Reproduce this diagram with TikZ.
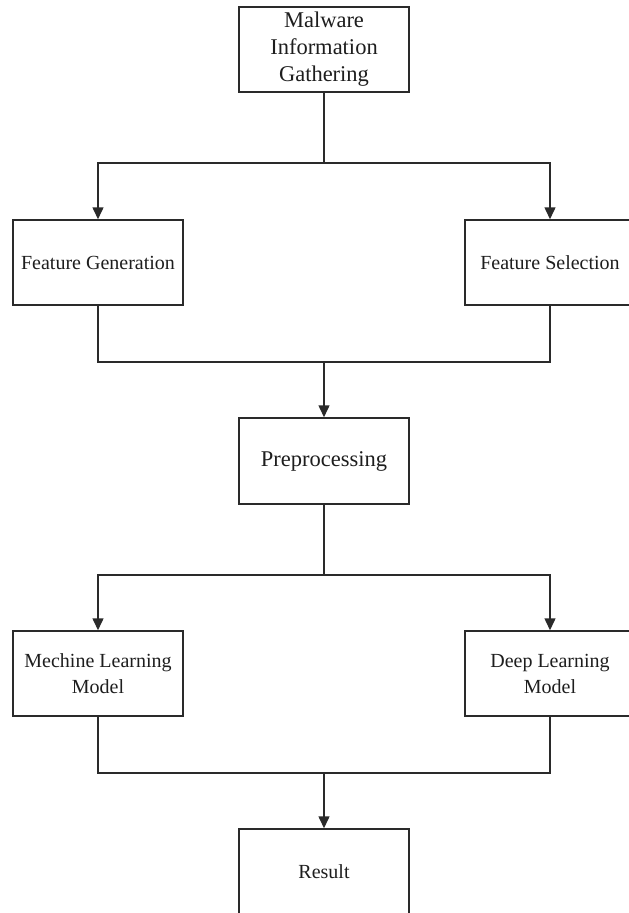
\documentclass[tikz,border=0pt]{standalone}
\usepackage{fontspec}
\setmainfont{Liberation Serif}
\usetikzlibrary{arrows.meta}
\definecolor{ln}{HTML}{2A2A2A}
\definecolor{tx}{HTML}{1E1E1E}
\begin{document}
\begin{tikzpicture}[x=1pt,y=-1pt,
  box/.style={draw=ln,line width=1.5pt,fill=white,minimum width=170pt,minimum height=85pt,
    inner sep=2pt,align=center,text=tx,font=\fontsize{20}{26}\selectfont},
  bigbox/.style={box,font=\fontsize{22.5}{27}\selectfont},
  conn/.style={draw=ln,line width=1.5pt},
  arr/.style={conn,-{Triangle[length=12pt,width=11pt]}}]
\useasboundingbox (0,0) rectangle (629,913);
\clip (0,0) rectangle (629,913);
\fill[white] (0,0) rectangle (629,913);
\node[bigbox] (top) at (324,49.5) {Malware\\Information\\Gathering};
\node[box] (fg) at (98,262.5) {Feature Generation};
\node[box] (fs) at (550,262.5) {Feature Selection};
\node[bigbox,minimum height=86pt] (pp) at (324,461) {Preprocessing};
\node[box] (ml) at (98,673.5) {Mechine Learning\\Model};
\node[box] (dl) at (550,673.5) {Deep Learning\\Model};
\node[box] (rs) at (324,871.5) {Result};
\coordinate (j1) at (324,163);
\coordinate (j2) at (324,362);
\coordinate (j3) at (324,575);
\coordinate (j4) at (324,773);
\draw[conn] (top.south) -- (j1);
\draw[arr] (j1) -| (fg.north);
\draw[arr] (j1) -| (fs.north);
\draw[conn] (fg.south) |- (j2);
\draw[conn] (fs.south) |- (j2);
\draw[arr] (j2) -- (pp.north);
\draw[conn] (pp.south) -- (j3);
\draw[arr] (j3) -| (ml.north);
\draw[arr] (j3) -| (dl.north);
\draw[conn] (ml.south) |- (j4);
\draw[conn] (dl.south) |- (j4);
\draw[arr] (j4) -- (rs.north);
\end{tikzpicture}
\end{document}
